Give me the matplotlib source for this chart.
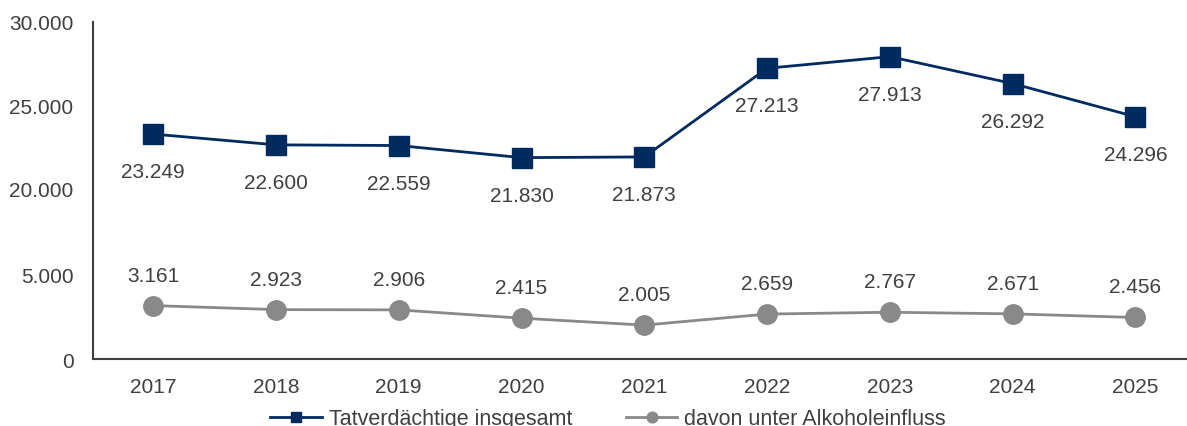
import numpy as np
import matplotlib.pyplot as plt

plt.rcParams['font.family'] = ['Liberation Sans', 'DejaVu Sans']

years = ['2017', '2018', '2019', '2020', '2021', '2022', '2023', '2024', '2025']
total = [23249, 22600, 22559, 21830, 21873, 27213, 27913, 26292, 24296]
alcohol = [3161, 2923, 2906, 2415, 2005, 2659, 2767, 2671, 2456]
tick_vals = [0, 5000, 20000, 25000, 30000]
tick_labels = ['0', '5.000', '20.000', '25.000', '30.000']

navy = '#002b5f'
grey = '#898989'
txt = '#404040'


# broken axis: 5.000 .. 20.000 squeezed
def fwd(v):
    v = np.asarray(v, dtype=float)
    low = v * 0.017
    mid = 85 + (v - 5000) / 15000 * 87
    high = 172 + (v - 20000) * 0.0167
    return np.where(v <= 5000, low, np.where(v < 20000, mid, high))


def inv(p):
    p = np.asarray(p, dtype=float)
    low = p / 0.017
    mid = 5000 + (p - 85) / 87 * 15000
    high = 20000 + (p - 172) / 0.0167
    return np.where(p <= 85, low, np.where(p < 172, mid, high))


fig = plt.figure(figsize=(11.87, 4.27), dpi=100)
ax = fig.add_axes([93 / 1187, 1 - 360 / 427, 1 - 93 / 1187, 337 / 427])
ax.set_yscale('function', functions=(fwd, inv))

x = np.arange(len(years))
ax.plot(x, total, color=navy, lw=2, marker='s', ms=14, label='Tatverdächtige insgesamt', clip_on=False)
ax.plot(x, alcohol, color=grey, lw=2, marker='o', ms=14, label='davon unter Alkoholeinfluss', clip_on=False)

for xi, v in zip(x, total):
    ax.annotate(f'{v:,}'.replace(',', '.'), (xi, v), xytext=(0, -27), textcoords='offset points',
                ha='center', va='center', fontsize=15, color=txt)
for xi, v in zip(x, alcohol):
    ax.annotate(f'{v:,}'.replace(',', '.'), (xi, v), xytext=(0, 22), textcoords='offset points',
                ha='center', va='center', fontsize=15, color=txt)

ax.set_xlim(-0.49, 8.42)
ax.set_ylim(0, 30000)
ax.set_xticks(x)
ax.set_xticklabels(years)
ax.set_yticks(tick_vals)
ax.set_yticklabels(tick_labels)
ax.tick_params(length=0, labelsize=15, colors=txt)
ax.tick_params(axis='x', pad=13)
ax.tick_params(axis='y', pad=14)
for s in ['top', 'right']:
    ax.spines[s].set_visible(False)
for s in ['left', 'bottom']:
    ax.spines[s].set_color(txt)
    ax.spines[s].set_linewidth(1.5)

fig.legend(loc='center', bbox_to_anchor=(608 / 1187, 1 - 420 / 427), ncol=2, frameon=False,
           fontsize=15.5, labelcolor=txt, handlelength=2.4, handletextpad=0.3,
           columnspacing=2.5, markerscale=0.55)

fig.savefig('out.png', dpi=100)
